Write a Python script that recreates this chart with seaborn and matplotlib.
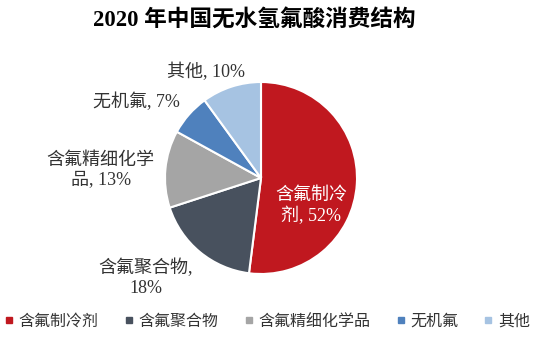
import matplotlib
matplotlib.use("Agg")
import matplotlib.pyplot as plt
import seaborn as sns
from matplotlib.lines import Line2D

categories = ["含氟制冷剂", "含氟聚合物", "含氟精细化学品", "无机氟", "其他"]
values = [52, 18, 13, 7, 10]
label_texts = ["含氟制冷\n剂, 52%", "含氟聚合物,\n18%", "含氟精细化学\n品, 13%", "无机氟, 7%", "其他, 10%"]
colors = ["#C0181F", "#48515E", "#A5A5A5", "#4F81BD", "#A6C3E2"]

sns.set_theme(style="white")
FONT = ["Liberation Serif", "Noto Sans CJK SC", "DejaVu Sans"]
plt.rcParams["font.family"] = FONT

W, H = 534, 343
fig = plt.figure(figsize=(W / 100, H / 100), dpi=100)
cx, cy, r = 261, 178, 96
ax = fig.add_axes([(cx - r) / W, (H - cy - r) / H, 2 * r / W, 2 * r / H])

ax.pie(values, colors=colors, startangle=90, counterclock=False,
       wedgeprops=dict(edgecolor="white", linewidth=1.5), radius=1)
ax.set_xlim(-1, 1)
ax.set_ylim(-1, 1)
ax.set_aspect("equal")
ax.axis("off")

pos = [(0.52, -0.29), (-1.20, -1.04), (-1.67, 0.08), (-1.30, 0.79), (-0.57, 1.10)]
tcolors = ["white", "#333333", "#333333", "#333333", "#333333"]
for (x, y), t, c in zip(pos, label_texts, tcolors):
    ax.text(x, y, t, ha="center", va="center", fontsize=13, color=c,
            multialignment="center", linespacing=1.2, clip_on=False)

fig.text(254 / W, 1 - 20 / H, "2020 年中国无水氢氟酸消费结构", ha="center", va="center",
         fontsize=16.3, fontweight="bold", color="black")

handles = [Line2D([0], [0], marker="s", linestyle="", markersize=5,
                  markerfacecolor=c, markeredgecolor=c) for c in colors]
fig.legend(handles, categories, loc="center", bbox_to_anchor=(0.5, 1 - 322 / H),
           ncol=5, frameon=False, fontsize=11.5, handlelength=0.6, handletextpad=0.3,
           columnspacing=1.6, labelcolor="#333333")

fig.savefig("out.png", dpi=100, facecolor="white")
